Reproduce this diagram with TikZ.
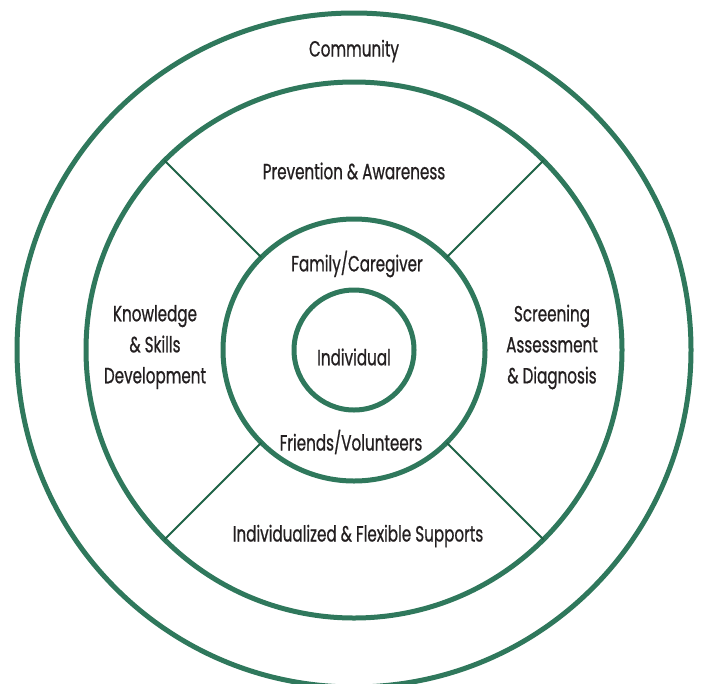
\documentclass[tikz,border=0pt]{standalone}
\usepackage{fontspec}
\setmainfont{Poppins}[FakeStretch=0.69,FakeBold=0.7]
\begin{document}
\begin{tikzpicture}[x=1pt,y=-1pt,
  ring/.style={circle, draw=ringgreen, line width=5pt, inner sep=0pt, outer sep=0pt},
  divider/.style={draw=linegreen, line width=2pt},
  lbl/.style={text=labelink, font=\fontsize{22}{31}\selectfont, align=center, inner sep=0pt}]
  \definecolor{ringgreen}{HTML}{2F785C}
  \definecolor{linegreen}{HTML}{1F6347}
  \definecolor{labelink}{HTML}{231F20}
  \useasboundingbox (0,0) rectangle (701,683);
  \coordinate (c) at (354,350);
  % concentric rings
  \node[ring, minimum size=674pt] (community) at (c) {};
  \node[ring, minimum size=536pt] (services) at (c) {};
  \node[ring, minimum size=262pt] (family) at (c) {};
  \node[ring, minimum size=120pt] (individual) at (c) {};
  % quadrant dividers of the services ring
  \draw[divider] (family.45) -- (services.45);
  \draw[divider] (family.135) -- (services.135);
  \draw[divider] (family.225) -- (services.225);
  \draw[divider] (family.315) -- (services.315);
  % labels
  \node[lbl] (tcommunity) at (354,51) {Community};
  \node[lbl] (tprevention) at (354,171) {Prevention \& Awareness};
  \node[lbl] (tfamily) at (357,264) {Family/Caregiver};
  \node[lbl] (tindividual) at (354,357) {Individual};
  \node[lbl] (tfriends) at (351,442) {Friends/Volunteers};
  \node[lbl] (tsupports) at (358,536) {Individualized \& Flexible Supports};
  \node[lbl] (tknowledge) at (155,347) {Knowledge\\\& Skills\\Development};
  \node[lbl] (tscreening) at (552,347) {Screening\\Assessment\\\& Diagnosis};
\end{tikzpicture}
\end{document}
